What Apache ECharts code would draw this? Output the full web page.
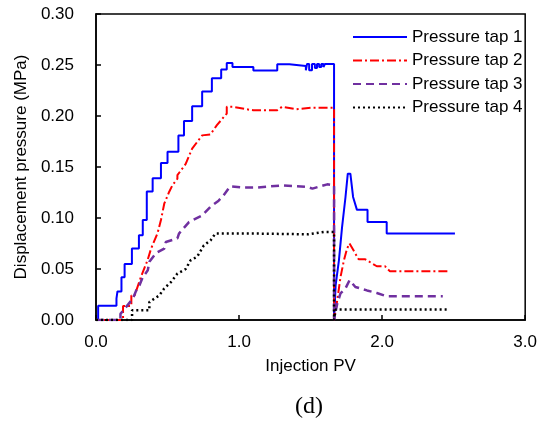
<!DOCTYPE html>
<html>
<head>
<meta charset="utf-8">
<script src="https://cdn.jsdelivr.net/npm/echarts@6/dist/echarts.min.js"></script>
<style>
  html, body { margin: 0; padding: 0; background: #fff; }
  #chart { width: 540px; height: 424px; }
</style>
</head>
<body>
<div id="chart"></div>
<script>
// [Injection PV, pressure MPa]
var tap1 = [
  [0, 0], [0.015, 0], [0.015, 0.014], [0.143, 0.014], [0.143, 0.021], [0.15, 0.021], [0.15, 0.028],
  [0.178, 0.028], [0.178, 0.042], [0.2, 0.042], [0.2, 0.055], [0.251, 0.055], [0.251, 0.07],
  [0.30, 0.07], [0.30, 0.083], [0.327, 0.083], [0.327, 0.098], [0.355, 0.098], [0.355, 0.126],
  [0.396, 0.126], [0.396, 0.139], [0.454, 0.139], [0.454, 0.154], [0.50, 0.154], [0.50, 0.165],
  [0.576, 0.165], [0.576, 0.181], [0.615, 0.181], [0.615, 0.195], [0.672, 0.195], [0.672, 0.2095],
  [0.742, 0.2095], [0.742, 0.224], [0.81, 0.224], [0.81, 0.237], [0.875, 0.237], [0.875, 0.2455],
  [0.914, 0.2455], [0.914, 0.252], [0.954, 0.252], [0.954, 0.248], [1.10, 0.248], [1.10, 0.2445],
  [1.267, 0.2445], [1.267, 0.2507], [1.352, 0.2507], [1.352, 0.249], [1.467, 0.249], [1.467, 0.2448],
  [1.475, 0.2448], [1.475, 0.251], [1.49, 0.251], [1.49, 0.2448], [1.51, 0.2448], [1.51, 0.251],
  [1.53, 0.251], [1.53, 0.247], [1.545, 0.247], [1.545, 0.251], [1.56, 0.251], [1.56, 0.248],
  [1.575, 0.248], [1.575, 0.251], [1.59, 0.251], [1.59, 0.248], [1.60, 0.248], [1.60, 0.251],
  [1.664, 0.251], [1.664, 0],
  [1.675, 0.034], [1.698, 0.0585], [1.72, 0.091], [1.744, 0.1206], [1.76, 0.1435], [1.778, 0.1435],
  [1.797, 0.1206], [1.824, 0.108], [1.898, 0.108], [1.898, 0.096], [2.032, 0.096], [2.032, 0.0847],
  [2.509, 0.0847]
];
var tap2 = [
  [0, 0], [0.189, 0], [0.189, 0.0137], [0.247, 0.0137], [0.247, 0.024], [0.27, 0.024], [0.316, 0.043],
  [0.36, 0.0585], [0.385, 0.07], [0.43, 0.085], [0.454, 0.098], [0.477, 0.114], [0.511, 0.1255],
  [0.534, 0.132], [0.569, 0.1386], [0.569, 0.142], [0.627, 0.153], [0.672, 0.168], [0.742, 0.181],
  [0.80, 0.182], [0.845, 0.191], [0.914, 0.2024], [0.914, 0.209], [0.96, 0.209], [1.052, 0.2066],
  [1.10, 0.2056], [1.267, 0.2056], [1.30, 0.209], [1.40, 0.2066], [1.50, 0.208], [1.664, 0.208],
  [1.664, 0],
  [1.686, 0.019], [1.709, 0.042], [1.733, 0.0585], [1.755, 0.07], [1.772, 0.075], [1.80, 0.0683],
  [1.836, 0.0595], [1.882, 0.0595], [1.963, 0.0527], [2.02, 0.0527], [2.055, 0.0477], [2.47, 0.0477]
];
var tap3 = [
  [0, 0], [0.171, 0], [0.171, 0.006], [0.2, 0.011], [0.258, 0.021], [0.281, 0.029], [0.304, 0.034],
  [0.327, 0.042], [0.362, 0.0487], [0.373, 0.057], [0.42, 0.0657], [0.477, 0.07], [0.488, 0.0765],
  [0.569, 0.08], [0.58, 0.0847], [0.65, 0.096], [0.742, 0.1026], [0.80, 0.111], [0.857, 0.117],
  [0.891, 0.122], [0.938, 0.131], [1.04, 0.1298], [1.133, 0.130], [1.306, 0.132], [1.479, 0.1304],
  [1.513, 0.1288], [1.617, 0.133], [1.664, 0.132], [1.664, 0],
  [1.686, 0.016], [1.709, 0.026], [1.744, 0.031], [1.772, 0.039], [1.813, 0.0324], [1.894, 0.029],
  [1.963, 0.0265], [2.032, 0.0232], [2.424, 0.0232]
];
var tap4 = [
  [0, 0], [0.252, 0], [0.252, 0.0095], [0.373, 0.0095], [0.373, 0.0177], [0.442, 0.024], [0.477, 0.031],
  [0.523, 0.037], [0.569, 0.0455], [0.627, 0.05], [0.661, 0.0585], [0.707, 0.062], [0.753, 0.073],
  [0.80, 0.078], [0.834, 0.0847], [1.133, 0.0847], [1.48, 0.084], [1.594, 0.0863], [1.664, 0.0863],
  [1.664, 0],
  [1.675, 0.0102], [2.47, 0.0102]
];
var seriesNames = ['Pressure tap 1', 'Pressure tap 2', 'Pressure tap 3', 'Pressure tap 4'];

var font = 'Liberation Sans, Arial, sans-serif';
var myChart = echarts.init(document.getElementById('chart'));

function mkLine(name, data, color, type, width) {
    return {
        name: name,
        type: 'line',
        data: data,
        symbol: 'none',
        showSymbol: false,
        animation: false,
        lineStyle: {color: color, width: width, type: type},
        itemStyle: {color: color}
    };
}

var option = {
    backgroundColor: '#fff',
    animation: false,
    grid: {
        left: 96, right: 9, top: 14, bottom: 104,
        show: true, borderColor: '#000', borderWidth: 1.5
    },
    legend: {
        orient: 'vertical',
        left: 347, top: 23,
        itemWidth: 54, itemHeight: 14, itemGap: 5.5,
        data: seriesNames,
        itemStyle: {opacity: 0},
        textStyle: {fontFamily: font, fontSize: 17, color: '#000', lineHeight: 18}
    },
    xAxis: {
        type: 'value', min: 0, max: 3, interval: 1,
        name: 'Injection PV', nameLocation: 'middle', nameGap: 38,
        nameTextStyle: {fontFamily: font, fontSize: 17, color: '#000'},
        axisLine: {lineStyle: {color: '#000', width: 1.5}},
        axisTick: {inside: true, length: 5, lineStyle: {color: '#000', width: 1.5}},
        axisLabel: {fontFamily: font, fontSize: 17, color: '#000', margin: 14,
            formatter: function(v) { return v.toFixed(1); }},
        splitLine: {show: false}
    },
    yAxis: {
        type: 'value', min: 0, max: 0.3, interval: 0.05,
        name: 'Displacement pressure (MPa)', nameLocation: 'middle', nameGap: 62,
        nameTextStyle: {fontFamily: font, fontSize: 17, color: '#000'},
        axisLine: {lineStyle: {color: '#000', width: 1.5}},
        axisTick: {inside: true, length: 5, lineStyle: {color: '#000', width: 1.5}},
        axisLabel: {fontFamily: font, fontSize: 17, color: '#000', margin: 22,
            formatter: function(v) { return v.toFixed(2); }},
        splitLine: {show: false}
    },
    graphic: [{
        type: 'text', x: 309, y: 407,
        style: {text: '(d)', font: '24px "Liberation Serif", "Times New Roman", serif', fill: '#000',
            textAlign: 'center', textVerticalAlign: 'middle'}
    }],
    series: [
        mkLine(seriesNames[0], tap1, '#0000ff', 'solid', 2),
        mkLine(seriesNames[1], tap2, '#ff0000', [9, 3, 2, 3], 2),
        mkLine(seriesNames[2], tap3, '#7030a0', [8, 5], 2.5),
        mkLine(seriesNames[3], tap4, '#000000', [2, 3], 2.5)
    ]
};
myChart.setOption(option);
</script>
</body>
</html>
